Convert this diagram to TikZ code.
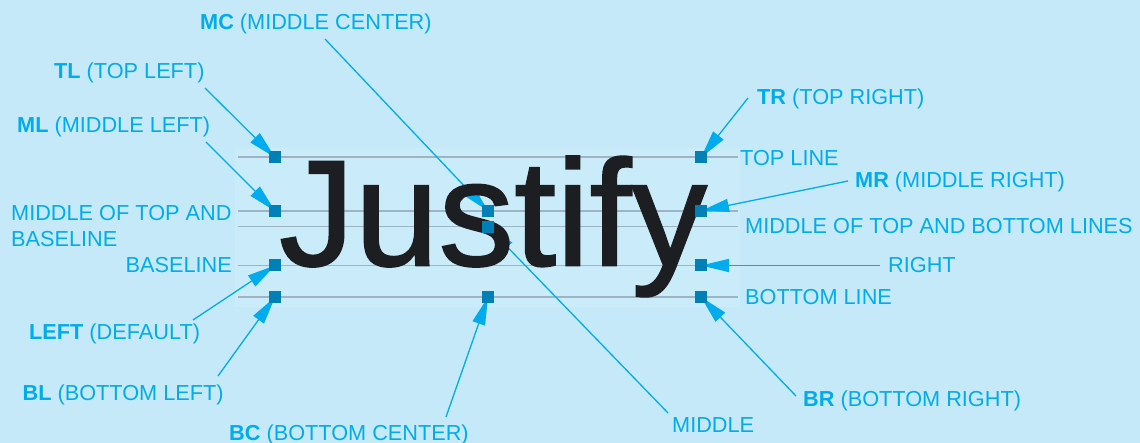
\documentclass[tikz,border=0pt]{standalone}
\usepackage{fontspec}
\setmainfont{Liberation Sans}
\newfontfamily\wordfont[FakeBold=1.2]{Liberation Sans}
\usetikzlibrary{arrows.meta}
\definecolor{bgc}{RGB}{198,233,249}
\definecolor{boxc}{RGB}{202,235,250}
\definecolor{cyanc}{RGB}{0,172,238}
\definecolor{sqc}{RGB}{0,128,182}
\definecolor{linec}{RGB}{158,180,194}
\definecolor{inkc}{RGB}{28,30,34}
\pgfdeclarelayer{back}
\pgfdeclarelayer{mid}
\pgfsetlayers{back,mid,main}
\begin{document}
\begin{tikzpicture}[x=1pt,y=-1pt,
  lbl/.style={anchor=base west, inner sep=0, text=cyanc, font=\fontsize{21.7}{26}\selectfont},
  sq/.style={fill=sqc, minimum size=12pt, inner sep=0, draw=none},
  guide/.style={draw=linec, line width=1.2pt},
  arr/.style={draw=cyanc, line width=1.3pt, -{Triangle[length=28pt,width=13pt]}}]
\begin{pgfonlayer}{back}
  \fill[bgc] (0,0) rectangle (1140,443);
  \fill[boxc] (235,148) rectangle (740,307);
\end{pgfonlayer}
\useasboundingbox (0,0) rectangle (1140,443);

% guide lines
\begin{pgfonlayer}{back}
  \draw[guide] (238,157) -- (738,157);
  \draw[guide] (238,211) -- (738,211);
  \draw[guide] (238,226.5) -- (738,226.5);
  \draw[guide] (238,265.5) -- (738,265.5);
  \draw[guide] (238,297) -- (738,297);
\end{pgfonlayer}

% word
\node[anchor=base west, inner sep=0, text=inkc, font=\wordfont\fontsize{151}{151}\selectfont] (word) at (279,265.5) {Justify};

% squares
\node[sq] (TL) at (275,157.5) {};
\node[sq] (ML) at (275,211) {};
\node[sq] (LT) at (275,265.5) {};
\node[sq] (BL) at (275,297) {};
\node[sq] (MC) at (488,211) {};
\node[sq] (MD) at (488,227) {};
\node[sq] (BC) at (488,297) {};
\node[sq] (TR) at (701,157.5) {};
\node[sq] (MR) at (701,211) {};
\node[sq] (RT) at (701,265.5) {};
\node[sq] (BR) at (701,297) {};

% labels
\node[lbl] (lMC) at (200,29.5) {\textbf{MC} (MIDDLE CENTER)};
\node[lbl] (lTL) at (54,79) {\textbf{TL} (TOP LEFT)};
\node[lbl] (lML) at (17,133) {\textbf{ML} (MIDDLE LEFT)};
\node[lbl, anchor=north west, align=left] (lMTB) at (11,205) {MIDDLE OF TOP AND\\BASELINE};
\node[lbl, anchor=base east] (lBase) at (232,272.5) {BASELINE};
\node[lbl] (lLeft) at (29,340) {\textbf{LEFT} (DEFAULT)};
\node[lbl] (lBL) at (22.5,400) {\textbf{BL} (BOTTOM LEFT)};
\node[lbl] (lBC) at (229,440) {\textbf{BC} (BOTTOM CENTER)};
\node[lbl] (lMid) at (672,432) {MIDDLE};
\node[lbl] (lBR) at (803,406) {\textbf{BR} (BOTTOM RIGHT)};
\node[lbl] (lBot) at (745,305) {BOTTOM LINE};
\node[lbl] (lRight) at (888,273) {RIGHT};
\node[lbl] (lMTBL) at (745,233.5) {MIDDLE OF TOP AND BOTTOM LINES};
\node[lbl] (lMR) at (855,188) {\textbf{MR} (MIDDLE RIGHT)};
\node[lbl] (lTop) at (740,165.5) {TOP LINE};
\node[lbl] (lTR) at (757,105) {\textbf{TR} (TOP RIGHT)};

% connector start points
\coordinate (sMC) at (325,39);
\coordinate (sTL) at (205,88);
\coordinate (sML) at (206,142);
\coordinate (sLeft) at (193,320);
\coordinate (sBL) at (218,376);
\coordinate (sBC) at (446,417);
\coordinate (sMid) at (668,413);
\coordinate (sBR) at (796,396);
\coordinate (sRight) at (880,265.5);
\coordinate (sMR) at (848,181);
\coordinate (sTR) at (748,98);

\begin{pgfonlayer}{mid}
  \draw[arr] (sMC) -- (MC.center);
  \draw[arr] (sTL) -- (TL.center);
  \draw[arr] (sML) -- (ML.center);
  \draw[arr] (sLeft) -- (LT.center);
  \draw[arr] (sBL) -- (BL.center);
  \draw[arr] (sBC) -- (BC.center);
  \draw[arr] (sMid) -- (MD.center);
  \draw[arr] (sBR) -- (BR.center);
  \draw[arr] (sRight) -- (RT.center);
  \draw[arr] (sMR) -- (MR.center);
  \draw[arr] (sTR) -- (TR.center);
\end{pgfonlayer}
\end{tikzpicture}
\end{document}
